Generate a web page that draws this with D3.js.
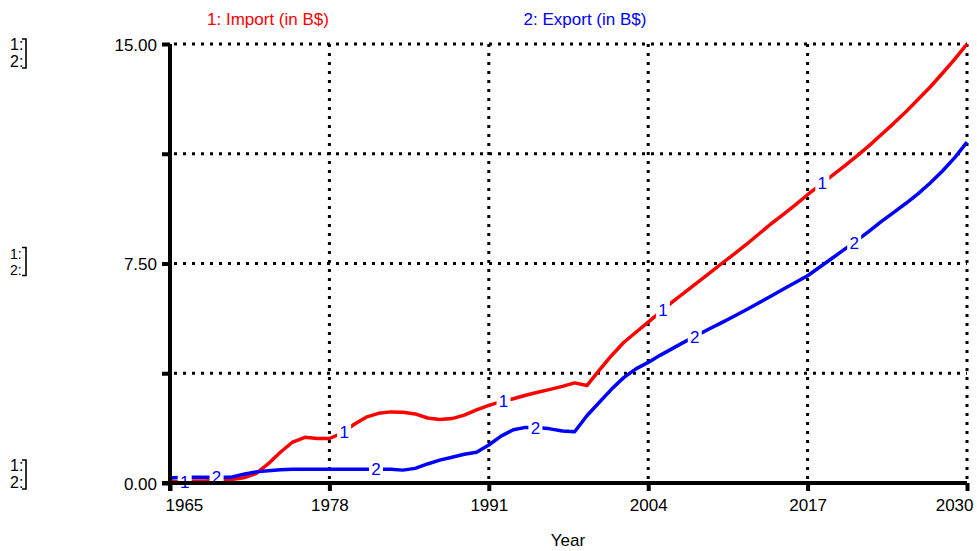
<!DOCTYPE html>
<html><head><meta charset="utf-8">
<script src="https://cdn.jsdelivr.net/npm/d3@7"></script>
<style>body{margin:0;background:#fff;} svg{display:block;font-family:"Liberation Sans",Arial,sans-serif;}</style>
</head><body><svg id="c" width="977" height="551"></svg>
<script>
const years = [1965,1966,1967,1968,1969,1970,1971,1972,1973,1974,1975,1976,1977,1978,1979,
  1980,1981,1982,1983,1984,1985,1986,1987,1988,1989,1990,1991,1992,1993,1994,1995,1996,1997,1998,1999,
  2000,2001,2002,2003,2004,2005,2006,2007,2008,2009,2010,2011,2012,2013,2014,2015,2016,2017,2018,2019,
  2020,2021,2022,2023,2024,2025,2026,2027,2028,2029,2030];
const importVals = [0.05,0.05,0.07,0.08,0.10,0.12,0.18,0.32,0.65,1.05,1.40,1.56,1.52,1.52,1.70,
  2.00,2.25,2.38,2.43,2.42,2.36,2.22,2.17,2.20,2.32,2.50,2.65,2.78,2.88,3.00,3.10,3.20,3.30,3.42,3.33,
  3.85,4.35,4.80,5.15,5.50,5.85,6.20,6.52,6.85,7.17,7.50,7.82,8.15,8.50,8.85,9.17,9.50,9.85,10.18,10.50,
  10.83,11.17,11.52,11.90,12.28,12.68,13.10,13.53,14.00,14.48,15.00];
const exportVals = [0.17,0.20,0.20,0.20,0.20,0.20,0.30,0.38,0.42,0.45,0.47,0.47,0.47,0.47,0.47,
  0.47,0.47,0.47,0.47,0.44,0.50,0.65,0.78,0.88,0.98,1.05,1.30,1.60,1.82,1.90,1.90,1.85,1.78,1.75,2.30,
  2.75,3.20,3.60,3.90,4.12,4.37,4.60,4.83,5.05,5.27,5.48,5.70,5.92,6.15,6.38,6.62,6.85,7.08,7.38,7.68,
  7.98,8.28,8.60,8.93,9.24,9.55,9.88,10.25,10.66,11.12,11.65];
const yTickValues = [0, 3.75, 7.5, 11.25, 15];
const yTickLabels = ["0.00", "", "7.50", "", "15.00"];
const xTickValues = [1965, 1978, 1991, 2004, 2017, 2030];
const seriesNames = ["1: Import (in B$)", "2: Export (in B$)"];
const seriesIds = ["1", "2"];
const seriesColors = ["#ff0000", "#0000ff"];
const labelYears1 = [1966.2, 1979.2, 1992.2, 2005.2, 2018.2];
const labelYears2 = [1968.8, 1981.8, 1994.8, 2007.8, 2020.8];
const xTitle = "Year";

const svg = d3.select("#c");
const x = d3.scaleLinear().domain([1965, 2030]).range([170, 967]);
const y = d3.scaleLinear().domain([0, 15]).range([483, 44]);

// grid
svg.append("g").selectAll("line").data(yTickValues.filter(v => v > 0)).join("line")
  .attr("x1", x(1965) + 4).attr("x2", x(2030)).attr("y1", d => y(d)).attr("y2", d => y(d))
  .attr("stroke", "#000").attr("stroke-width", 3).attr("stroke-dasharray", "3,6");
svg.append("g").selectAll("line").data(xTickValues.filter(v => v > 1965)).join("line")
  .attr("x1", d => x(d)).attr("x2", d => x(d)).attr("y1", y(0) - 4).attr("y2", y(15))
  .attr("stroke", "#000").attr("stroke-width", 3).attr("stroke-dasharray", "3,6");

// series
const series = [importVals, exportVals];
const line = d3.line().x((d, i) => x(years[i])).y(d => y(d));
series.forEach((vals, k) => {
  svg.append("path").datum(vals).attr("d", line).attr("fill", "none")
    .attr("stroke", seriesColors[k]).attr("stroke-width", 3.5)
    .attr("stroke-linejoin", "round").attr("stroke-linecap", "butt");
});

function valueAt(vals, yr) {
  const i = Math.min(d3.bisectRight(years, yr) - 1, years.length - 2);
  const t = (yr - years[i]) / (years[i + 1] - years[i]);
  return vals[i] + (vals[i + 1] - vals[i]) * t;
}
[labelYears1, labelYears2].forEach((ly, k) => {
  const g = svg.append("g").selectAll("g").data(ly).join("g")
    .attr("transform", d => `translate(${x(d)},${y(valueAt(series[k], d))})`);
  g.append("rect").attr("x", -7).attr("y", -9).attr("width", 14).attr("height", 18).attr("fill", "#fff");
  g.append("text").text(seriesIds[k]).attr("text-anchor", "middle").attr("dy", "0.36em")
    .attr("font-size", 17).attr("fill", "#0000ff");
});

// axes
const yAxis = d3.axisLeft(y).tickValues(yTickValues).tickSize(8).tickSizeOuter(0)
  .tickFormat((d, i) => yTickLabels[i]);
const gy = svg.append("g").attr("transform", `translate(${x(1965)},0)`).call(yAxis)
  .attr("font-size", 17).attr("font-family", null);
gy.select(".domain").remove();
gy.selectAll(".tick line").attr("stroke", "#000").attr("stroke-width", 4);
gy.selectAll(".tick text").attr("fill", "#000").attr("x", -13).attr("dy", "0.38em");

const xAxis = d3.axisBottom(x).tickValues(xTickValues).tickSize(8).tickSizeOuter(0)
  .tickFormat(d3.format("d"));
const gx = svg.append("g").attr("transform", `translate(0,${y(0)})`).call(xAxis)
  .attr("font-size", 17).attr("font-family", null);
gx.select(".domain").remove();
gx.selectAll(".tick line").attr("stroke", "#000").attr("stroke-width", 4);
gx.selectAll(".tick text").attr("fill", "#000").attr("y", 16);
gx.selectAll(".tick text").filter((d, i) => i === 0).attr("text-anchor", "start").attr("x", -5);
gx.selectAll(".tick text").filter((d, i, n) => i === n.length - 1).attr("text-anchor", "end").attr("x", 6);

// axis lines
svg.append("line").attr("x1", x(1965)).attr("x2", x(1965)).attr("y1", y(15)).attr("y2", y(0) + 8)
  .attr("stroke", "#000").attr("stroke-width", 4);
svg.append("line").attr("x1", x(1965) - 8).attr("x2", x(2030)).attr("y1", y(0)).attr("y2", y(0))
  .attr("stroke", "#000").attr("stroke-width", 4);

// legend
const legendX = [268, 585];
seriesNames.forEach((n, k) => {
  svg.append("text").text(n).attr("x", legendX[k]).attr("y", 25).attr("text-anchor", "middle")
    .attr("font-size", 17).attr("fill", seriesColors[k]);
});

// x title
svg.append("text").text(xTitle).attr("x", 568).attr("y", 546).attr("text-anchor", "middle")
  .attr("font-size", 17).attr("fill", "#000");

// left scale indicators
const groups = [
  {top: y(15) + 6, bottom: y(15) + 23, fs: 16},
  {top: y(7.5) - 5, bottom: y(7.5) + 11, fs: 14},
  {top: y(0) - 12, bottom: y(0) + 5, fs: 16}
];
groups.forEach(gp => {
  seriesIds.forEach((id, k) => {
    svg.append("text").text(id + ":").attr("x", 10).attr("y", k === 0 ? gp.top : gp.bottom)
      .attr("font-size", gp.fs).attr("fill", "#000");
  });
  svg.append("path")
    .attr("d", `M22,${gp.top - 11}H26V${gp.bottom + 1}H22`)
    .attr("fill", "none").attr("stroke", "#000").attr("stroke-width", 1.6);
});
</script></body></html>
